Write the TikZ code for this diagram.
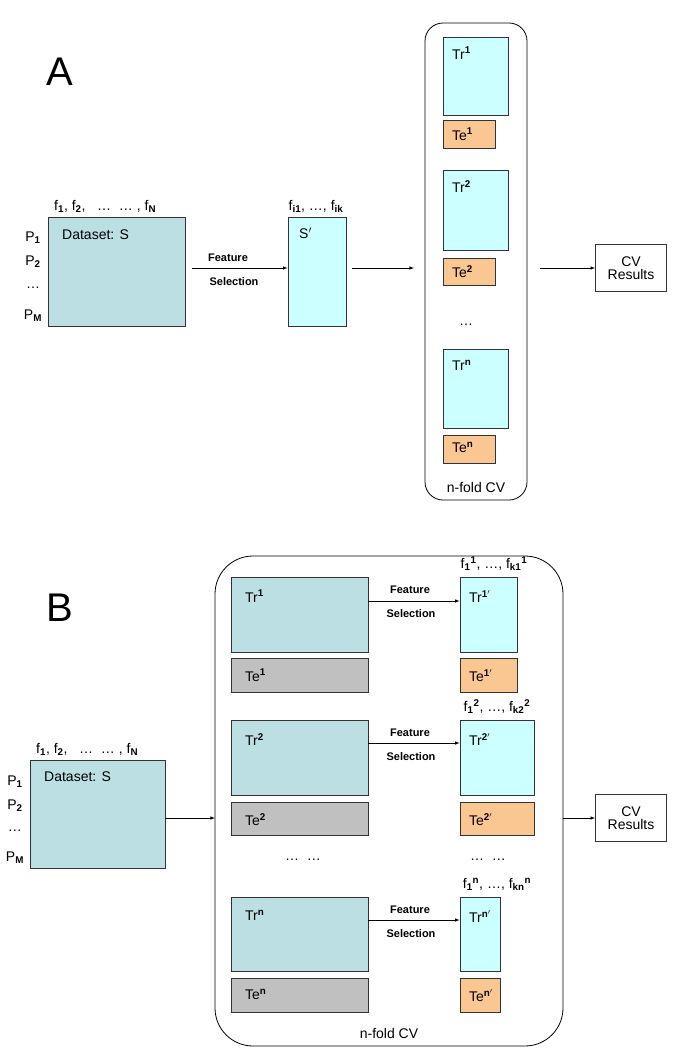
\documentclass[tikz,border=0pt]{standalone}
\usepackage{fontspec}
\setmainfont{Liberation Sans}
\begin{document}
\begin{tikzpicture}[x=1pt,y=-1pt,
  bx/.style={draw=black!80,line width=0.8pt,inner sep=0pt},
  lbl/.style={anchor=north west,font=\fontsize{14}{14}\selectfont,inner sep=0pt},
  fs/.style={font=\bfseries\fontsize{11}{11}\selectfont},
  arr/.style={-latex,line width=0.6pt},
  sm/.style={font=\fontsize{14}{14}\selectfont}]
\definecolor{teal}{HTML}{BCDFE3}
\definecolor{cy}{HTML}{CCFFFF}
\definecolor{or}{HTML}{FAC793}
\definecolor{gr}{HTML}{C0C0C0}
\useasboundingbox (0,0) rectangle (685,1055);
\newcommand\bx[6]{\node[bx,fill=#6,minimum width=#4-#2,minimum height=#5-#3] (#1) at ({(#2+#4)/2},{(#3+#5)/2}) {};}
% ---------- A
\node[font=\fontsize{40}{40}\selectfont] (A) at (60,72) {A};
\bx{dsA}{48}{217}{185}{326}{teal}
\node[lbl] (dsAl) at (62,230) {Dataset: S};
\node[sm,anchor=south west,inner sep=1pt] (fA) at (53,214) {f$_{\mathbf 1}$, f$_{\mathbf 2}$,\ \ \ … \ … , f$_{\mathbf N}$};
\node[sm] (p1A) at (33,238) {P$_{\mathbf 1}$};
\node[sm] (p2A) at (33,262) {P$_{\mathbf 2}$};
\node[sm] (pdA) at (33,288) {…};
\node[sm] (pmA) at (33,316) {P$_{\mathbf M}$};
\bx{sp}{288}{217}{346}{326}{cy}
\node[lbl] (spl) at (299,228) {S$'$};
\node[sm,anchor=south,inner sep=1pt] (fiA) at (316,214) {f$_{\mathbf{i1}}$, …, f$_{\mathbf{ik}}$};
\draw[arr] (192,268) -- (sp.west|-0,268);
\node[fs] (feA) at (228,258) {Feature};
\node[fs] (seA) at (234,282) {Selection};
\draw[rounded corners=18pt,line width=0.8pt] (425,23) rectangle (527,500);
\node[sm] (nfA) at (476,487) {n-fold CV};
\bx{tr1A}{443}{37}{508}{115}{cy}\node[lbl] at (452,47) {Tr$^{\mathbf 1}$};
\bx{te1A}{443}{120}{495}{148}{or}\node[lbl] at (452,128) {Te$^{\mathbf 1}$};
\bx{tr2A}{443}{170}{508}{250}{cy}\node[lbl] at (452,180) {Tr$^{\mathbf 2}$};
\bx{te2A}{443}{258}{495}{285}{or}\node[lbl] at (452,265) {Te$^{\mathbf 2}$};
\node[sm] (dA) at (466,325) {…};
\bx{trnA}{443}{349}{508}{428}{cy}\node[lbl] at (452,360) {Tr$^{\mathbf n}$};
\bx{tenA}{443}{435}{495}{463}{or}\node[lbl] at (452,442) {Te$^{\mathbf n}$};
\draw[arr] (352,268) -- (414,268);
\node[bx,fill=white,minimum width=71pt,minimum height=47pt,align=center,sm] (cvA) at (631,268) {CV\\[-1pt]Results};
\draw[arr] (540,268) -- (cvA.west);
% ---------- B
\node[font=\fontsize{40}{40}\selectfont] (B) at (60,608) {B};
\bx{dsB}{30}{760}{165}{868}{teal}
\node[lbl] (dsBl) at (44,772) {Dataset: S};
\node[sm,anchor=south west,inner sep=1pt] (fB) at (35,757) {f$_{\mathbf 1}$, f$_{\mathbf 2}$,\ \ \ … \ … , f$_{\mathbf N}$};
\node[sm] (p1B) at (15,782) {P$_{\mathbf 1}$};
\node[sm] (p2B) at (15,806) {P$_{\mathbf 2}$};
\node[sm] (pdB) at (15,831) {…};
\node[sm] (pmB) at (15,858) {P$_{\mathbf M}$};
\draw[rounded corners=38pt,line width=0.8pt] (215,556) rectangle (563,1046);
\coordinate (bin) at (215,818);
\draw[arr] (dsB.east|-bin) -- (bin);
\node[sm] (nfB) at (389,1033) {n-fold CV};
% fold 1
\bx{tr1}{231}{577}{368}{652}{teal}\node[lbl] at (245,590) {Tr$^{\mathbf 1}$};
\bx{te1}{231}{658}{368}{692}{gr}\node[lbl] at (245,669) {Te$^{\mathbf 1}$};
\bx{tr1p}{460}{577}{517}{652}{cy}\node[lbl] at (469,590) {Tr$^{\mathbf{1}'}$};
\bx{te1p}{460}{658}{517}{692}{or}\node[lbl] at (469,669) {Te$^{\mathbf{1}'}$};
\draw[arr] (tr1.east|-0,601) -- (tr1p.west|-0,601);
\node[fs] (fe1) at (410,590) {Feature};
\node[fs] (se1) at (411,614) {Selection};
\node[sm,anchor=south,inner sep=0pt] at (494,571) {f$_{\mathbf 1}{}^{\mathbf 1}$, …, f$_{\mathbf{k1}}{}^{\mathbf 1}$};
% fold 2
\bx{tr2}{231}{720}{368}{795}{teal}\node[lbl] at (245,733) {Tr$^{\mathbf 2}$};
\bx{te2}{231}{802}{368}{835}{gr}\node[lbl] at (245,813) {Te$^{\mathbf 2}$};
\bx{tr2p}{460}{720}{534}{795}{cy}\node[lbl] at (469,733) {Tr$^{\mathbf{2}'}$};
\bx{te2p}{460}{802}{534}{835}{or}\node[lbl] at (469,813) {Te$^{\mathbf{2}'}$};
\draw[arr] (tr2.east|-0,743) -- (tr2p.west|-0,743);
\node[fs] (fe2) at (410,733) {Feature};
\node[fs] (se2) at (411,757) {Selection};
\node[sm,anchor=south,inner sep=0pt] at (497,714) {f$_{\mathbf 1}{}^{\mathbf 2}$, …, f$_{\mathbf{k2}}{}^{\mathbf 2}$};
\node[sm] (d1) at (303,860) {… \ …};
\node[sm] (d2) at (488,860) {… \ …};
% fold n
\bx{trn}{231}{897}{368}{971}{teal}\node[lbl] at (245,910) {Tr$^{\mathbf n}$};
\bx{ten}{231}{978}{368}{1012}{gr}\node[lbl] at (245,989) {Te$^{\mathbf n}$};
\bx{trnp}{460}{897}{500}{971}{cy}\node[lbl] at (469,910) {Tr$^{\mathbf{n}'}$};
\bx{tenp}{460}{978}{500}{1012}{or}\node[lbl] at (469,989) {Te$^{\mathbf{n}'}$};
\draw[arr] (trn.east|-0,920) -- (trnp.west|-0,920);
\node[fs] (fen) at (410,910) {Feature};
\node[fs] (sen) at (411,934) {Selection};
\node[sm,anchor=south,inner sep=0pt] at (497,891) {f$_{\mathbf 1}{}^{\mathbf n}$, …, f$_{\mathbf{kn}}{}^{\mathbf n}$};
\node[bx,fill=white,minimum width=71pt,minimum height=47pt,align=center,sm] (cvB) at (631,818) {CV\\[-1pt]Results};
\draw[arr] (563,818) -- (cvB.west);
\end{tikzpicture}
\end{document}
